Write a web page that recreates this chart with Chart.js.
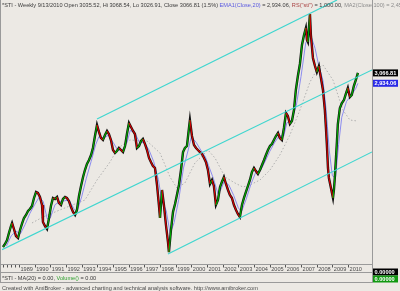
<!DOCTYPE html>
<html>
<head>
<meta charset="utf-8">
<script src="https://cdn.jsdelivr.net/npm/chart.js@4.4.0/dist/chart.umd.min.js"></script>
<style>
	body { margin: 0; background: #ECE9E4; }
	#wrap { width: 400px; height: 291px; position: relative; }
</style>
</head>
<body>
<div id="wrap"><canvas id="chart" width="400" height="291"></canvas></div>
<script>
// weekly STI close (year, index points)
var priceYears = [1987.98, 1988.11, 1988.24, 1988.36, 1988.49, 1988.56, 1988.68, 1988.81, 1988.94, 1989.07,
	1989.19, 1989.32, 1989.45, 1989.58, 1989.70, 1989.83, 1989.96, 1990.09, 1990.21, 1990.34,
	1990.47, 1990.53, 1990.66, 1990.79, 1990.92, 1991.04, 1991.17, 1991.30, 1991.43, 1991.55,
	1991.68, 1991.81, 1991.94, 1992.06, 1992.19, 1992.32, 1992.45, 1992.58, 1992.70, 1992.83,
	1992.96, 1993.09, 1993.21, 1993.34, 1993.47, 1993.60, 1993.72, 1993.85, 1993.98, 1994.11,
	1994.23, 1994.36, 1994.49, 1994.62, 1994.74, 1994.87, 1995.00, 1995.13, 1995.25, 1995.38,
	1995.51, 1995.64, 1995.77, 1995.89, 1996.02, 1996.15, 1996.28, 1996.40, 1996.53, 1996.66,
	1996.79, 1996.91, 1997.04, 1997.17, 1997.30, 1997.42, 1997.55, 1997.68, 1997.81, 1997.93,
	1998.00, 1998.13, 1998.25, 1998.38, 1998.51, 1998.57, 1998.70, 1998.83, 1998.96, 1999.08,
	1999.21, 1999.34, 1999.47, 1999.59, 1999.72, 1999.85, 1999.91, 2000.04, 2000.17, 2000.30,
	2000.42, 2000.55, 2000.68, 2000.81, 2000.93, 2001.06, 2001.19, 2001.32, 2001.44, 2001.57,
	2001.70, 2001.83, 2001.95, 2002.08, 2002.21, 2002.34, 2002.46, 2002.59, 2002.72, 2002.85,
	2002.97, 2003.10, 2003.23, 2003.36, 2003.48, 2003.61, 2003.74, 2003.87, 2004.00, 2004.12,
	2004.25, 2004.38, 2004.51, 2004.64, 2004.76, 2004.89, 2005.02, 2005.14, 2005.27, 2005.40,
	2005.53, 2005.65, 2005.78, 2005.91, 2006.04, 2006.16, 2006.29, 2006.42, 2006.55, 2006.67,
	2006.80, 2006.93, 2007.06, 2007.19, 2007.31, 2007.38, 2007.44, 2007.57, 2007.63, 2007.76,
	2007.89, 2008.01, 2008.14, 2008.27, 2008.40, 2008.52, 2008.59, 2008.65, 2008.72, 2008.78,
	2008.91, 2009.04, 2009.10, 2009.16, 2009.23, 2009.29, 2009.35, 2009.48, 2009.61, 2009.74,
	2009.86, 2009.99, 2010.12, 2010.24, 2010.37, 2010.50, 2010.63];
var priceValues = [838, 877, 928, 1018, 1107, 1146, 1069, 979, 954, 1056,
	1133, 1210, 1248, 1299, 1325, 1363, 1466, 1542, 1530, 1478,
	1376, 1158, 1107, 1069, 1210, 1363, 1466, 1453, 1478, 1402,
	1376, 1453, 1478, 1466, 1427, 1350, 1286, 1248, 1312, 1491,
	1619, 1734, 1824, 1901, 1952, 2016, 2106, 2259, 2400, 2310,
	2234, 2208, 2272, 2323, 2285, 2208, 2080, 2042, 2067, 2106,
	2080, 2054, 2131, 2285, 2426, 2374, 2323, 2285, 2106, 2131,
	2195, 2221, 2157, 2080, 1978, 1926, 1875, 1850, 1632, 1376,
	1210, 1568, 1376, 1120, 902, 774, 1056, 1286, 1389, 1504,
	1632, 1824, 2054, 2106, 2131, 2362, 2464, 2259, 2144, 2106,
	2080, 2054, 2029, 1978, 1926, 1824, 1645, 1696, 1619, 1376,
	1440, 1606, 1670, 1734, 1645, 1568, 1504, 1466, 1376, 1312,
	1261, 1222, 1376, 1466, 1542, 1619, 1696, 1798, 1850, 1811,
	1773, 1824, 1888, 1952, 2016, 2080, 2131, 2157, 2208, 2259,
	2298, 2234, 2208, 2362, 2554, 2515, 2413, 2451, 2592, 2848,
	3027, 3181, 3424, 3552, 3642, 3488, 3462, 3821, 3552, 3258,
	3155, 3078, 3155, 3002, 2848, 2592, 2362, 2144, 1850, 1722,
	1594, 1466, 1568, 1734, 1978, 2182, 2413, 2618, 2682, 2720,
	2797, 2874, 2758, 2784, 2899, 2976, 3066.81];

// EMA1(Close,20)
var emaYears = [1988.2, 1988.5, 1988.8, 1989.1, 1989.4, 1989.7, 1990.0, 1990.3, 1990.55, 1990.8,
	1991.0, 1991.3, 1991.6, 1991.9, 1992.2, 1992.5, 1992.7, 1993.0, 1993.3, 1993.6,
	1993.9, 1994.1, 1994.4, 1994.7, 1995.0, 1995.3, 1995.6, 1995.9, 1996.1, 1996.4,
	1996.7, 1997.0, 1997.3, 1997.6, 1997.9, 1998.1, 1998.4, 1998.65, 1998.9, 1999.2,
	1999.5, 1999.8, 2000.0, 2000.3, 2000.6, 2000.9, 2001.1, 2001.4, 2001.7, 2001.9,
	2002.1, 2002.4, 2002.7, 2003.0, 2003.2, 2003.5, 2003.8, 2004.1, 2004.4, 2004.7,
	2005.0, 2005.3, 2005.6, 2005.9, 2006.1, 2006.4, 2006.7, 2007.0, 2007.3, 2007.6,
	2007.9, 2008.1, 2008.4, 2008.6, 2008.8, 2009.0, 2009.2, 2009.4, 2009.6, 2009.9,
	2010.2, 2010.5, 2010.63];
var emaValues = [850, 980, 1040, 1010, 1130, 1270, 1380, 1480, 1420, 1200,
	1210, 1380, 1420, 1430, 1440, 1330, 1290, 1480, 1720, 1930,
	2150, 2250, 2230, 2270, 2180, 2080, 2080, 2180, 2330, 2300,
	2170, 2180, 2080, 1930, 1700, 1450, 1300, 1010, 1150, 1450,
	1850, 2080, 2250, 2180, 2080, 1990, 1880, 1720, 1520, 1580,
	1680, 1630, 1500, 1340, 1290, 1450, 1640, 1790, 1810, 1930,
	2060, 2170, 2260, 2260, 2430, 2460, 2650, 3020, 3450, 3560,
	3380, 3190, 2970, 2600, 2080, 1750, 1720, 2150, 2500, 2700,
	2780, 2870, 2934.06];

// MA2(Close,100)
var maYears = [1989.83, 1990.53, 1991.6, 1993.21, 1993.98, 1994.81, 1995.32, 1996.08, 1997.17, 1998.0,
	1998.64, 1999.08, 1999.59, 2000.23, 2001.06, 2001.51, 2002.15, 2002.78, 2003.29, 2003.74,
	2004.38, 2005.02, 2005.65, 2006.29, 2006.93, 2007.57, 2008.08, 2008.4, 2009.04, 2009.67,
	2010.12, 2010.63];
var maValues = [1146, 1222, 1312, 1440, 1696, 1926, 2104, 2208, 2195, 2042,
	1734, 1594, 1658, 1914, 2080, 1978, 1734, 1658, 1606, 1632,
	1696, 1824, 2016, 2272, 2592, 2950, 3130, 3168, 2976, 2592,
	2464, 2450];

// parallel channel lines drawn on the chart
var upperYears = [1993.98, 2009.3];
var upperValues = [2477, 4000];
var middleYears = [1987.92, 2011.53];
var middleValues = [805, 3105];
var lowerYears = [1998.51, 2011.53];
var lowerValues = [749, 2055];

var tickYears = [1988, 1988.25, 1988.5, 1988.75, 1989, 1990, 1991, 1992, 1993, 1994, 1995, 1996,
	1997, 1998, 1999, 2000, 2001, 2002, 2003, 2004, 2005, 2006, 2007, 2008, 2009, 2010];
var yearLabels = ["1989", "1990", "1991", "1992", "1993", "1994", "1995", "1996", "1997", "1998", "1999",
	"2000", "2001", "2002", "2003", "2004", "2005", "2006", "2007", "2008", "2009", "2010"];

var lastClose = 3066.81;
var lastEma = 2934.06;

var titleParts = [
	["*STI - Weekly 9/13/2010 Open 3035.52, Hi 3068.54, Lo 3026.91, Close 3066.81 (1.5%) ", "#3a3a3a"],
	["EMA1(Close,20)", "#5a5ae0"],
	[" = 2,934.06, ", "#3a3a3a"],
	["RS(\"sti\")", "#a84040"],
	[" = 1,000.00, ", "#3a3a3a"],
	["MA2(Close,100)", "#8c8c8c"],
	[" = 2,45", "#8c8c8c"]
];
var paneParts = [
	["*STI - MA(20) = 0.00, ", "#3a3a3a"],
	["Volume()", "#30a030"],
	[" = 0.00", "#3a3a3a"]
];
var footer = "Created with AmiBroker - advanced charting and technical analysis software. http://www.amibroker.com";

function pairs(xs, ys) {
	return xs.map(function(x, i) { return {x: x, y: ys[i]}; });
}

function line(data, color, width, dash) {
	return {
		data: data,
		borderColor: color,
		borderWidth: width,
		borderDash: dash || [],
		pointRadius: 0,
		tension: 0,
		fill: false
	};
}

function parts(ctx, list, x, y) {
	list.forEach(function(p) {
		ctx.fillStyle = p[1];
		ctx.fillText(p[0], x, y);
		x += ctx.measureText(p[0]).width;
	});
}

function valueBox(ctx, text, x, yc, bg) {
	ctx.fillStyle = bg;
	ctx.fillRect(x, yc - 3.5, 25, 7);
	ctx.fillStyle = "#ffffff";
	ctx.textBaseline = "middle";
	ctx.fillText(text, x + 1.5, yc + 0.5);
	ctx.textBaseline = "alphabetic";
}

var decor = {
	id: "decor",
	afterDraw: function(chart) {
		var ctx = chart.ctx;
		var xs = chart.scales.x;
		var ys = chart.scales.y;
		var font = "5.6px 'Liberation Sans', Arial, sans-serif";
		ctx.save();
		ctx.font = font;

		// frame lines
		ctx.strokeStyle = "#9a9a9a";
		ctx.lineWidth = 1;
		ctx.beginPath();
		ctx.moveTo(0.5, 0); ctx.lineTo(0.5, 283);
		ctx.moveTo(372.5, 0); ctx.lineTo(372.5, 283);
		ctx.moveTo(0, 264.5); ctx.lineTo(372, 264.5);
		ctx.moveTo(0, 272.5); ctx.lineTo(372, 272.5);
		ctx.moveTo(0, 282.5); ctx.lineTo(372, 282.5);
		ctx.stroke();

		// year ticks and labels
		ctx.strokeStyle = "#555555";
		ctx.beginPath();
		tickYears.forEach(function(t) {
			var px = Math.round(xs.getPixelForValue(t)) + 0.5;
			ctx.moveTo(px, 265);
			ctx.lineTo(px, 267.5);
		});
		ctx.stroke();
		ctx.fillStyle = "#4a4a4a";
		yearLabels.forEach(function(lbl) {
			var px = xs.getPixelForValue(parseInt(lbl, 10));
			ctx.fillText(lbl, px + 1.5, 270.8);
		});

		// title, lower pane, footer
		parts(ctx, titleParts, 2, 7);
		parts(ctx, paneParts, 2, 279.5);
		ctx.fillStyle = "#4a4a4a";
		ctx.fillText(footer, 2, 289.5);

		// value boxes on the right
		ctx.font = "bold 5.6px 'Liberation Sans', Arial, sans-serif";
		valueBox(ctx, "3,066.81", 373, ys.getPixelForValue(lastClose), "#000000");
		valueBox(ctx, "2,934.06", 373, ys.getPixelForValue(lastEma), "#2a2ae6");
		valueBox(ctx, "0.00000", 373, 272, "#000000");
		valueBox(ctx, "0.00000", 373, 279, "#119911");
		ctx.restore();
	}
};

var priceData = pairs(priceYears, priceValues);

new Chart(document.getElementById("chart"), {
	type: "line",
	data: {
		datasets: [
			line(pairs(upperYears, upperValues), "#3fd6cf", 1.2),
			line(pairs(middleYears, middleValues), "#3fd6cf", 1.2),
			line(pairs(lowerYears, lowerValues), "#3fd6cf", 1.2),
			Object.assign(line(priceData, "#d00000", 1.2), {
				segment: {
					borderColor: function(c) { return c.p1.parsed.y >= c.p0.parsed.y ? "#00a800" : "#d40000"; }
				}
			}),
			line(priceData, "#111111", 2.4),
			line(pairs(emaYears, emaValues), "#8c8cf0", 1),
			line(pairs(maYears, maValues), "#b0b0b0", 1, [1.5, 2])
		]
	},
	options: {
		responsive: false,
		animation: false,
		layout: { padding: { left: 2, right: 28, top: 0, bottom: 26 } },
		plugins: { legend: { display: false }, tooltip: { enabled: false } },
		scales: {
			x: { type: "linear", min: 1987.917, max: 2011.53, display: false },
			y: { type: "linear", min: 608, max: 4000, display: false }
		}
	},
	plugins: [decor]
});
</script>
</body>
</html>
